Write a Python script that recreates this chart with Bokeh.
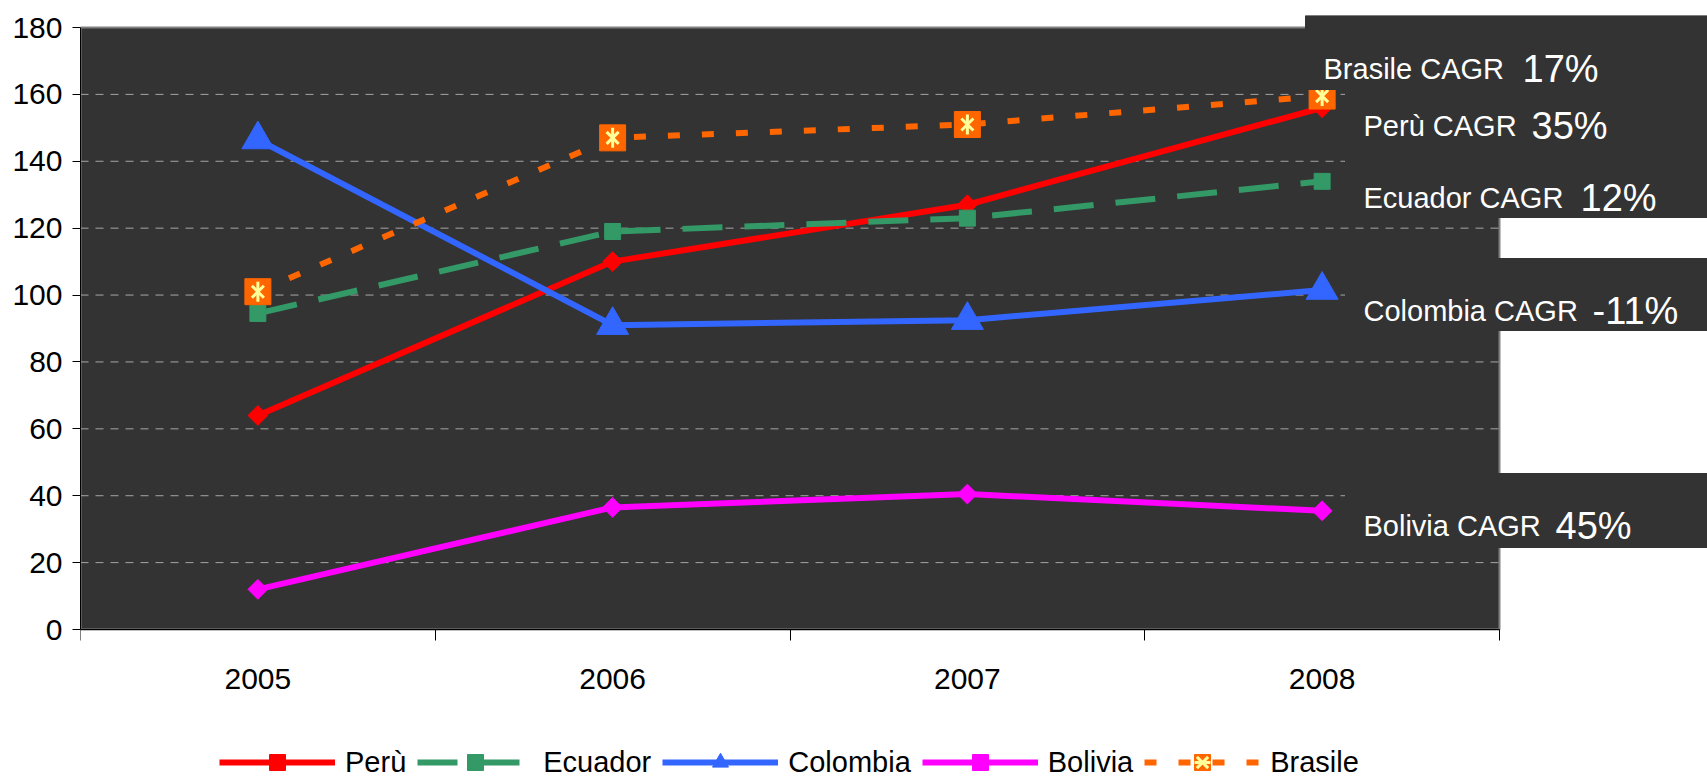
import math
from bokeh.plotting import figure
from bokeh.models import (Range1d, FixedTicker, Legend, LegendItem, Label)
from bokeh.embed import file_html
from bokeh.resources import INLINE

# ---------------- data ----------------
years = ["2005", "2006", "2007", "2008"]
peru = [64, 110, 127, 156]
ecuador = [94.5, 119, 123, 134]
colombia = [146.5, 91, 92.5, 101.5]
bolivia = [12, 36.5, 40.5, 35.5]
brasile = [101, 147, 151, 159.5]

y_ticks = [0, 20, 40, 60, 80, 100, 120, 140, 160, 180]

cagr_names = ["Brasile CAGR", "Perù CAGR", "Ecuador CAGR", "Colombia CAGR", "Bolivia CAGR"]
cagr_values = ["17%", "35%", "12%", "-11%", "45%"]

# ---------------- layout constants (page pixels) ----------------
FONT = "Liberation Sans"
W, H = 1707, 777
PA_LEFT, PA_RIGHT, PA_TOP, PA_BOTTOM = 80, 1499, 27, 629   # dark plot area
FR_TOP = 15                                                  # frame top (boxes start here)
Y_MAX = y_ticks[-1]
N = len(years)


def xd(px):
    return (px - PA_LEFT) / ((PA_RIGHT - PA_LEFT) / N)


def yd(py):
    return (PA_BOTTOM - py) / ((PA_BOTTOM - PA_TOP) / Y_MAX)


xs = [i + 0.5 for i in range(N)]

p = figure(width=W, height=H, output_backend="svg", toolbar_location=None,
           x_range=Range1d(0, xd(W)), y_range=Range1d(yd(H), yd(FR_TOP)),
           min_border_left=PA_LEFT, min_border_right=0,
           min_border_top=FR_TOP, min_border_bottom=0,
           background_fill_color="white", border_fill_color="white",
           outline_line_color=None)

# x axis drawn at y=0: labels at category centres, tick marks at boundaries
xa = p.xaxis[0]
xa.fixed_location = 0
xa.bounds = (0, N)
xa.ticker = FixedTicker(ticks=xs, minor_ticks=list(range(N + 1)))
xa.major_label_overrides = {x: y for x, y in zip(xs, years)}
xa.major_tick_out = 0
xa.major_tick_in = 0
xa.minor_tick_out = 11
xa.minor_tick_in = 0
xa.minor_tick_line_color = "black"
xa.axis_line_color = "black"
xa.major_label_standoff = 28
xa.major_label_text_font = FONT
xa.major_label_text_font_size = "30px"
xa.major_label_text_color = "black"

ya = p.yaxis[0]
ya.bounds = (0, Y_MAX)
ya.ticker = FixedTicker(ticks=y_ticks, minor_ticks=[])
ya.major_tick_out = 8
ya.major_tick_in = 0
ya.major_tick_line_color = "black"
ya.axis_line_color = "black"
ya.major_label_standoff = 10
ya.major_label_text_font = FONT
ya.major_label_text_font_size = "30px"
ya.major_label_text_color = "black"

p.xgrid.visible = False
p.ygrid.visible = False

# dark plot area
p.quad(left=[0], right=[N], bottom=[0], top=[Y_MAX],
       fill_color="#333333", line_color="#808080", line_width=2)

# horizontal dashed gridlines
inner = y_ticks[1:-1]
p.segment(x0=[0] * len(inner), x1=[N] * len(inner), y0=inner, y1=inner,
          line_color="#a6a6a6", line_width=1, line_dash="8 7")

LW = 6
items = []

r1 = p.line(xs, peru, line_color="#FF0000", line_width=LW)
m1 = p.scatter(xs, peru, marker="square", angle=math.pi / 4, size=14,
               fill_color="#FF0000", line_color="#FF0000")
items.append(LegendItem(label="Perù", renderers=[r1, m1]))

r2 = p.line(xs, ecuador, line_color="#339966", line_width=LW, line_dash="40 22")
m2 = p.scatter(xs, ecuador, marker="square", size=16,
               fill_color="#339966", line_color="#339966")
items.append(LegendItem(label="Ecuador", renderers=[r2, m2]))

r3 = p.line(xs, colombia, line_color="#3366FF", line_width=LW)
m3 = p.scatter(xs, colombia, marker="triangle", size=32,
               fill_color="#3366FF", line_color="#3366FF")
items.append(LegendItem(label="Colombia", renderers=[r3, m3]))

r4 = p.line(xs, bolivia, line_color="#FF00FF", line_width=LW)
m4 = p.scatter(xs, bolivia, marker="square", angle=math.pi / 4, size=14,
               fill_color="#FF00FF", line_color="#FF00FF")
items.append(LegendItem(label="Bolivia", renderers=[r4, m4]))

r5 = p.line(xs, brasile, line_color="#FF6600", line_width=LW, line_dash="12 22")
m5 = p.scatter(xs, brasile, marker="square", size=26,
               fill_color="#FF6600", line_color="#FF6600")
m5b = p.scatter(xs, brasile, marker="x", size=17,
                line_color="#FFFF99", line_width=3)
m5c = p.scatter(xs, brasile, marker="dash", angle=math.pi / 2, size=20,
                line_color="#FFFF99", line_width=3)
items.append(LegendItem(label="Brasile", renderers=[r5, m5, m5b, m5c]))

legend = Legend(items=items, orientation="horizontal", location=(139, -5),
                label_text_font=FONT, label_text_font_size="29px",
                label_text_color="black", glyph_width=116, glyph_height=40,
                label_standoff=10, spacing=11, padding=0, margin=0,
                border_line_color=None, background_fill_alpha=0)
p.add_layout(legend, "center")

# ---------------- CAGR boxes (drawn over the lines) ----------------
box_left = [1305, 1345, 1345, 1345]
box_top = [FR_TOP, 86, 258, 473]
box_bottom = [89, 217, 330, 547]
p.quad(left=[xd(v) for v in box_left], right=[xd(W + 5)] * len(box_left),
       top=[yd(v) for v in box_top], bottom=[yd(v) for v in box_bottom],
       fill_color="#333333", line_color="#333333", line_width=1)

name_pos = [(1323, 68), (1363, 125), (1363, 197), (1363, 310), (1363, 525)]
val_pos = [1522, 1531, 1580, 1592, 1555]
for name, val, (nx, ny), vx in zip(cagr_names, cagr_values, name_pos, val_pos):
    p.add_layout(Label(x=xd(nx), y=yd(ny), text=name, text_font=FONT,
                       text_font_size="29px", text_color="white",
                       text_baseline="alphabetic"))
    p.add_layout(Label(x=xd(vx), y=yd(ny), text=val, text_font=FONT,
                       text_font_size="38px", text_color="white",
                       text_baseline="alphabetic"))

open("out.html", "w").write(file_html(p, INLINE))
